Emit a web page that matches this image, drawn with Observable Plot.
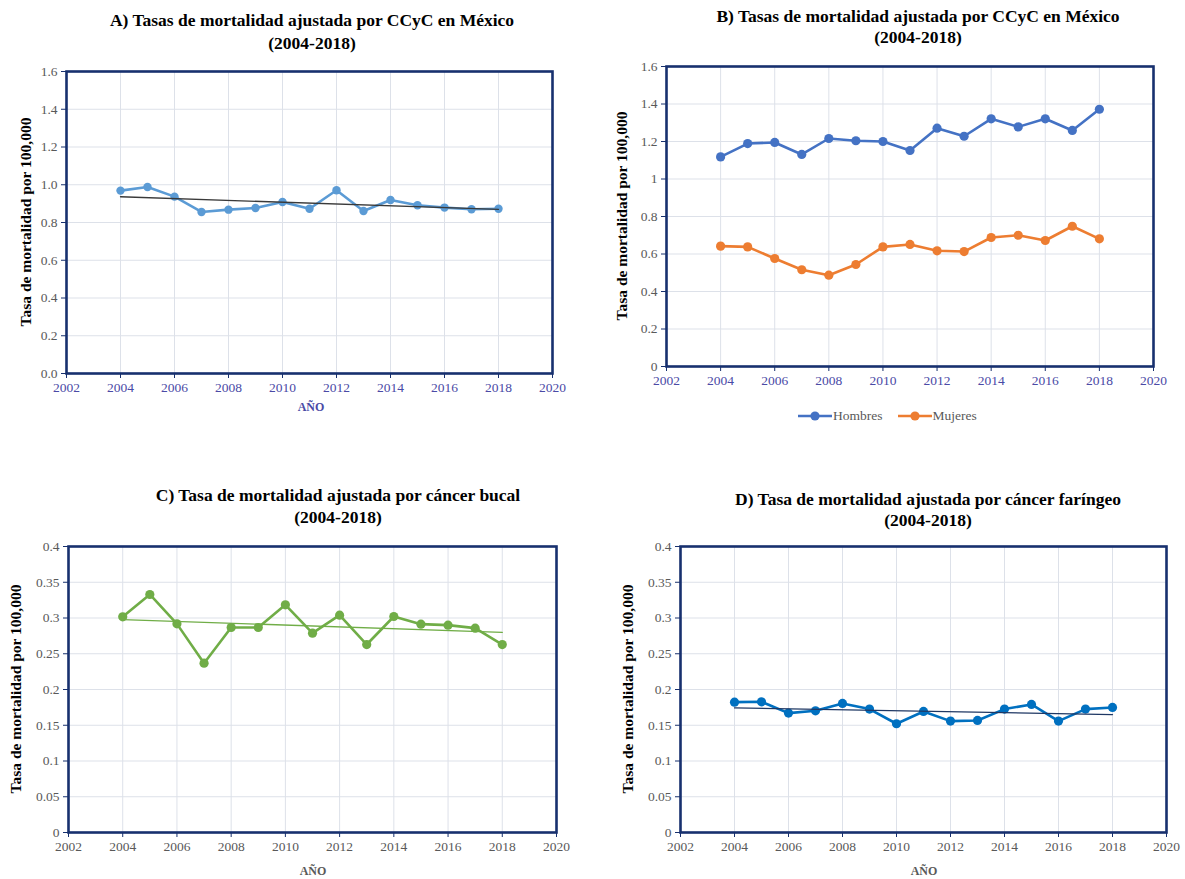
<!DOCTYPE html>
<html>
<head>
<meta charset="utf-8">
<script src="https://cdn.jsdelivr.net/npm/d3@7"></script>
<script src="https://cdn.jsdelivr.net/npm/@observablehq/plot@0.6"></script>
<style>
  body { margin: 0; background: #fff; }
  #page { position: relative; width: 1185px; height: 879px; font-family: "Liberation Serif", "Times New Roman", serif; overflow: hidden; }
  .panel { position: absolute; }
  .panel svg text { font-family: "Liberation Serif", "Times New Roman", serif; }
  .title { position: absolute; font-weight: bold; font-size: 17.5px; text-align: center; color: #000; white-space: nowrap; transform: translateX(-50%); }
  .ylab { position: absolute; font-weight: bold; font-size: 15.5px; white-space: nowrap; color: #000; transform: translate(-50%, -50%) rotate(-90deg); }
  .xlab { position: absolute; font-weight: bold; font-size: 12px; white-space: nowrap; transform: translate(-50%, -50%); }
  .legend { position: absolute; display: flex; align-items: center; font-size: 13.5px; color: #595959; }
  .legend span { margin-right: 14px; }
  .legend svg { display: block; }
</style>
</head>
<body>
<div id="page"></div>
<script>
// Years covered by every series
const years = [2004, 2005, 2006, 2007, 2008, 2009, 2010, 2011, 2012, 2013, 2014, 2015, 2016, 2017, 2018];

// A) Adjusted CCyC mortality rate, both sexes
const ccyc = [0.969, 0.988, 0.937, 0.856, 0.868, 0.877, 0.909, 0.873, 0.971, 0.861, 0.919, 0.891, 0.879, 0.870, 0.873];

// B) Adjusted CCyC mortality rate by sex
const hombres = [1.118, 1.189, 1.195, 1.131, 1.216, 1.204, 1.200, 1.152, 1.271, 1.228, 1.321, 1.278, 1.321, 1.259, 1.372];
const mujeres = [0.642, 0.638, 0.576, 0.516, 0.487, 0.544, 0.638, 0.651, 0.617, 0.613, 0.688, 0.700, 0.672, 0.748, 0.681];

// C) Oral cancer, D) pharyngeal cancer
const bucal = [0.3016, 0.3329, 0.2918, 0.2368, 0.2867, 0.2867, 0.3184, 0.2788, 0.3040, 0.2629, 0.3021, 0.2914, 0.2900, 0.2858, 0.2629];
const faringeo = [0.1823, 0.1828, 0.1670, 0.1702, 0.1805, 0.1726, 0.1521, 0.1693, 0.1558, 0.1567, 0.1726, 0.1791, 0.1558, 0.1726, 0.1749];

// Axis ticks
const xTicks = [2002, 2004, 2006, 2008, 2010, 2012, 2014, 2016, 2018, 2020];
const yTicksRate = [0, 0.2, 0.4, 0.6, 0.8, 1.0, 1.2, 1.4, 1.6];
const yTicksSite = [0, 0.05, 0.1, 0.15, 0.2, 0.25, 0.3, 0.35, 0.4];

// Text
const titles = {
  A: ["A) Tasas de mortalidad ajustada por CCyC en México", "(2004-2018)"],
  B: ["B) Tasas de mortalidad ajustada por CCyC en México", "(2004-2018)"],
  C: ["C) Tasa de mortalidad ajustada por cáncer bucal", "(2004-2018)"],
  D: ["D) Tasa de mortalidad ajustada por cáncer faríngeo", "(2004-2018)"]
};
const yTitle = "Tasa de mortalidad  por 100,000";
const xTitle = "AÑO";
const seriesNames = ["Hombres", "Mujeres"];

const navy = "#17306e";
const grid = "#dde1e9";
const grayText = "#595959";
const blueText = "#4a4aa6";
const serif = '"Liberation Serif", "Times New Roman", serif';
const serifStyle = 'font-family: "Liberation Serif", "Times New Roman", serif; font-size: 13.5px; background: transparent; overflow: visible;';

const page = document.getElementById("page");

function rows(values) {
  return years.map((year, i) => ({year, value: values[i]}));
}

function panel({left, top, width, height, margin, yDomain, yTicks, yFormat, xColor, series, trend}) {
  const marks = [
    Plot.gridX({ticks: xTicks, stroke: grid, strokeOpacity: 1}),
    Plot.gridY({ticks: yTicks, stroke: grid, strokeOpacity: 1}),
    Plot.axisX({ticks: xTicks, tickFormat: "d", tickSize: 5, tickPadding: 4, stroke: navy, fill: xColor, label: null, fontSize: 13.5, fontFamily: serif}),
    Plot.axisY({ticks: yTicks, tickFormat: yFormat, tickSize: 5, tickPadding: 4, stroke: navy, fill: grayText, label: null, fontSize: 13.5, fontFamily: serif})
  ];
  for (const s of series) {
    const data = rows(s.values);
    marks.push(Plot.line(data, {x: "year", y: "value", stroke: s.color, strokeWidth: 2.6}));
    marks.push(Plot.dot(data, {x: "year", y: "value", fill: s.color, r: s.r, stroke: null}));
  }
  if (trend) {
    marks.push(Plot.linearRegressionY(rows(trend.values), {x: "year", y: "value", stroke: trend.color, strokeWidth: 1.3, ci: 0}));
  }
  marks.push(Plot.frame({stroke: navy, strokeWidth: 2.6}));

  const chart = Plot.plot({
    width, height,
    marginTop: margin[0], marginRight: margin[1], marginBottom: margin[2], marginLeft: margin[3],
    x: {type: "linear", domain: [2002, 2020]},
    y: {domain: yDomain},
    style: serifStyle,
    marks
  });
  const div = document.createElement("div");
  div.className = "panel";
  div.style.left = left + "px";
  div.style.top = top + "px";
  div.appendChild(chart);
  page.appendChild(div);
}

function addTitle(lines, cx, top, lineHeight) {
  const d = document.createElement("div");
  d.className = "title";
  d.style.left = cx + "px";
  d.style.top = top + "px";
  d.style.lineHeight = lineHeight + "px";
  d.innerHTML = lines.join("<br>");
  page.appendChild(d);
}
function addYTitle(cx, cy) {
  const d = document.createElement("div");
  d.className = "ylab";
  d.style.left = cx + "px";
  d.style.top = cy + "px";
  d.textContent = yTitle;
  page.appendChild(d);
}
function addXTitle(cx, cy, color) {
  const d = document.createElement("div");
  d.className = "xlab";
  d.style.left = cx + "px";
  d.style.top = cy + "px";
  d.style.color = color;
  d.textContent = xTitle;
  page.appendChild(d);
}

const fmt1 = d => d3.format(".1f")(d);
const fmtGeneral = d => String(+d.toFixed(2));

// Panel A
panel({left: 0, top: 50, width: 590, height: 380, margin: [21, 38, 57, 66],
  yDomain: [0, 1.6], yTicks: yTicksRate, yFormat: fmt1, xColor: blueText,
  series: [{values: ccyc, color: "#5b9bd5", r: 4.2}],
  trend: {values: ccyc, color: "#3a3a3a"}});
addTitle(titles.A, 312, 9, 23);
addYTitle(26, 222);
addXTitle(311, 407, blueText);

// Panel B
panel({left: 590, top: 50, width: 595, height: 370, margin: [16, 32, 54, 76],
  yDomain: [0, 1.6], yTicks: yTicksRate, yFormat: fmtGeneral, xColor: blueText,
  series: [{values: hombres, color: "#4472c4", r: 4.6}, {values: mujeres, color: "#ed7d31", r: 4.6}]});
addTitle(titles.B, 918, 6, 21);
addYTitle(622, 216);

// Legend for panel B
const legend = document.createElement("div");
legend.className = "legend";
legend.style.left = "797px";
legend.style.top = "407px";
[["#4472c4", seriesNames[0]], ["#ed7d31", seriesNames[1]]].forEach(([c, name]) => {
  const sw = d3.create("svg").attr("width", 36).attr("height", 18);
  sw.append("line").attr("x1", 1).attr("x2", 35).attr("y1", 9).attr("y2", 9).attr("stroke", c).attr("stroke-width", 2.6);
  sw.append("circle").attr("cx", 18).attr("cy", 9).attr("r", 4.6).attr("fill", c);
  legend.appendChild(sw.node());
  const t = document.createElement("span");
  t.textContent = name;
  legend.appendChild(t);
});
page.appendChild(legend);

// Panel C
panel({left: 0, top: 530, width: 590, height: 340, margin: [16, 34, 38, 68],
  yDomain: [0, 0.4], yTicks: yTicksSite, yFormat: fmtGeneral, xColor: grayText,
  series: [{values: bucal, color: "#70ad47", r: 4.6}],
  trend: {values: bucal, color: "#70ad47"}});
addTitle(titles.C, 338, 484, 22);
addYTitle(16, 689);
addXTitle(313, 871, grayText);

// Panel D
panel({left: 590, top: 530, width: 595, height: 340, margin: [16, 19, 38, 90],
  yDomain: [0, 0.4], yTicks: yTicksSite, yFormat: fmtGeneral, xColor: grayText,
  series: [{values: faringeo, color: "#0070c0", r: 4.6}],
  trend: {values: faringeo, color: "#1f3864"}});
addTitle(titles.D, 928, 489, 21);
addYTitle(628, 689);
addXTitle(924, 871, grayText);
</script>
</body>
</html>
